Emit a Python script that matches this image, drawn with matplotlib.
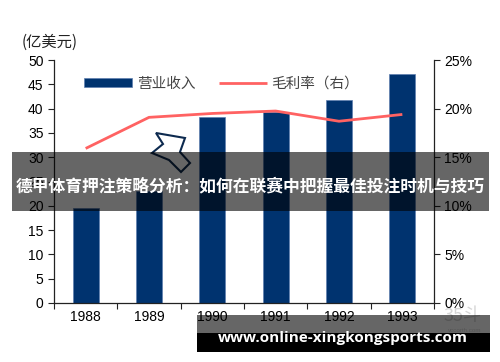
import matplotlib.pyplot as plt
from matplotlib.patches import Rectangle, Polygon
from matplotlib.ticker import FuncFormatter

plt.rcParams['font.family'] = ['Liberation Sans', 'Noto Sans CJK SC', 'DejaVu Sans']

# 数据
anos = ['1988', '1989', '1990', '1991', '1992', '1993']
receita = [19.5, 23.0, 38.3, 39.3, 41.8, 47.1]        # 营业收入（亿美元）
margem = [15.9, 19.1, 19.5, 19.75, 18.7, 19.4]        # 毛利率（%）

W, H = 500, 362
fig = plt.figure(figsize=(W / 100, H / 100), dpi=100)
ax = fig.add_axes([54 / W, 1 - 303 / H, 380 / W, 243 / H])
ax2 = ax.twinx()

x = list(range(len(anos)))
barras = ax.bar(x, receita, width=0.41, color='#00336f', edgecolor='#5f7fb0',
                linewidth=0.5, label='营业收入', zorder=2)
linha, = ax2.plot(x, margem, color='#ff6262', lw=2, label='毛利率（右）',
                  solid_capstyle='butt', zorder=3)

ax.set_xlim(-0.5, 5.5)
ax.set_ylim(0, 50)
ax2.set_ylim(0, 25)
ax.set_yticks(range(0, 51, 5))
ax2.set_yticks(range(0, 26, 5))
ax2.yaxis.set_major_formatter(FuncFormatter(lambda v, p: f'{v:.0f}%'))

ax.set_xticks([i - 0.5 for i in range(7)])
ax.set_xticklabels([])
ax.set_xticks(x, minor=True)
ax.set_xticklabels(anos, minor=True)
ax.tick_params(axis='x', which='major', direction='out', length=4, color='#222222')
ax.tick_params(axis='x', which='minor', length=0, labelsize=10, pad=5)
ax.tick_params(axis='y', direction='out', length=4, labelsize=10, color='#222222')
ax2.tick_params(axis='y', direction='out', length=4, labelsize=10, color='#222222')

for a in (ax, ax2):
    a.spines['top'].set_visible(False)
    for s in a.spines.values():
        s.set_color('#222222')
        s.set_linewidth(0.9)
ax.spines['right'].set_visible(False)
ax2.spines['left'].set_visible(False)
ax2.spines['bottom'].set_visible(False)

fig.text(22 / W, 1 - 42 / H, '(亿美元)', fontsize=11, va='center', ha='left',
         color='#222222', family=['Noto Sans CJK SC', 'DejaVu Sans'])

leg = ax.legend([barras, linha], ['营业收入', '毛利率（右）'], ncol=2, frameon=False,
                loc='upper left', bbox_to_anchor=(0.045, 0.985), handlelength=3.3,
                handleheight=0.6, columnspacing=1.6, handletextpad=0.3,
                prop={'family': 'Noto Sans CJK SC', 'size': 10.5})
for t in leg.get_texts():
    t.set_color('#444444')

# seta decorativa
seta = [(156, 133), (185, 138), (180, 152), (190, 163), (181, 172),
        (169, 160), (152, 153), (163, 144)]
fig.add_artist(Polygon([(px / W, 1 - py / H) for px, py in seta], closed=True,
                       transform=fig.transFigure, facecolor='white',
                       edgecolor='#0d2a4f', lw=1.5, zorder=5))

# faixa com título
fig.add_artist(Rectangle((12 / W, 1 - 211 / H), 477 / W, 59 / H, transform=fig.transFigure,
                         facecolor='black', alpha=0.6, lw=0, zorder=6))
fig.text(250 / W, 1 - 186 / H, '德甲体育押注策略分析：如何在联赛中把握最佳投注时机与技巧',
         color='white', fontsize=12.1, fontweight='bold', ha='center', va='center',
         family=['Noto Sans CJK SC', 'DejaVu Sans'], zorder=7)

# marca d'água
fig.text(463 / W, 1 - 316 / H, '35斗', color='#bbbbbb', fontsize=13, ha='center',
         va='center', alpha=0.6, family=['Noto Sans CJK SC', 'DejaVu Sans'], zorder=4)
fig.text(465 / W, 1 - 331 / H, 'vccorth.com', color='#bbbbbb', fontsize=4.5,
         ha='center', va='center', alpha=0.6, zorder=4)

# faixa inferior
fig.add_artist(Rectangle((197 / W, 1 - 333 / H), 293 / W, 18 / H, transform=fig.transFigure,
                         facecolor='black', alpha=0.6, lw=0, zorder=6))
fig.add_artist(Rectangle((197 / W, 1 - 352 / H), 293 / W, 19 / H, transform=fig.transFigure,
                         facecolor='black', lw=0, zorder=6))
fig.text(343 / W, 1 - 338 / H, 'www.online-xingkongsports.com', color='white',
         fontsize=11, fontweight='bold', ha='center', va='center',
         family=['Open Sans', 'DejaVu Sans'], zorder=7)

fig.savefig('out.png', dpi=100)
